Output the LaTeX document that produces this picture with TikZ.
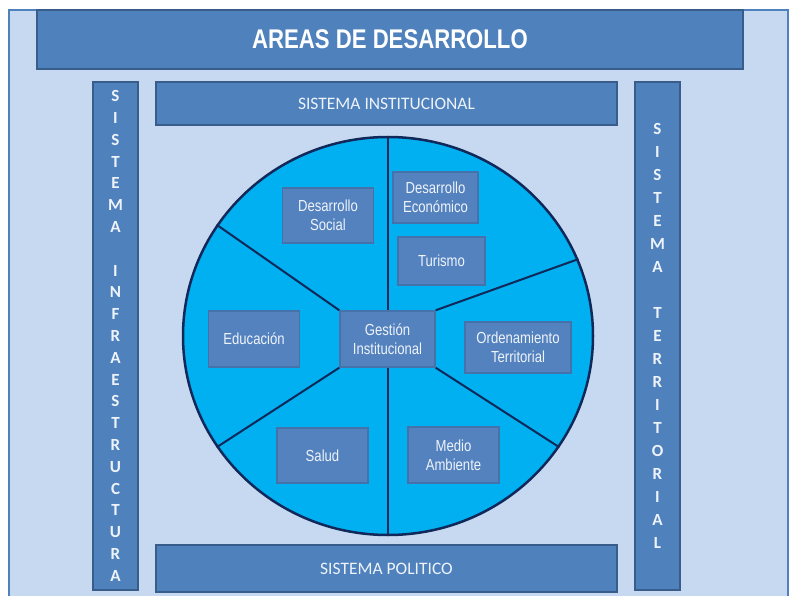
\documentclass[tikz,border=0pt]{standalone}
\usepackage{fontspec}
\setmainfont{Liberation Sans}
\newfontfamily\narrowfont[FakeStretch=0.82]{Liberation Sans}
\newfontfamily\calfont{Carlito}
\usetikzlibrary{positioning,shapes.geometric}
\definecolor{paleblue}{HTML}{C6D9F1}
\definecolor{frameline}{HTML}{4F81BD}
\definecolor{barblue}{HTML}{4F81BD}
\definecolor{barline}{HTML}{385D8A}
\definecolor{wheelblue}{HTML}{00B0F0}
\definecolor{navy}{HTML}{10285A}
\definecolor{areablue}{HTML}{5482BE}
\definecolor{arealine}{HTML}{4472AA}
\definecolor{softwhite}{HTML}{EEF3FA}

\begin{document}
\begin{tikzpicture}[
  x=1pt, y=-1pt,
  bar/.style={
    draw=barline, fill=barblue, line width=1.5pt, inner sep=0pt,
    text=softwhite, font=\calfont\fontsize{17.5}{21}\selectfont
  },
  vbar/.style={
    bar, minimum width=45pt, minimum height=508pt, align=center
  },
  area/.style={
    draw=arealine, fill=areablue, line width=1.5pt, inner sep=0pt,
    minimum width=91pt, minimum height=55pt, align=center,
    text=softwhite, font=\narrowfont\fontsize{16}{19}\selectfont
  },
  divider/.style={draw=navy, line width=2pt}
]
  \clip (0,0) rectangle (790,596);
  \useasboundingbox (0,0) rectangle (790,596);

  % background frame
  \draw[draw=frameline, fill=paleblue, line width=2pt] (9,10) rectangle (788,620);

  % Header and systems around the wheel
  \node[bar, minimum width=706pt, minimum height=59pt, text=white,
    font=\narrowfont\bfseries\fontsize{27}{32}\selectfont] (title) at (390,39.5) {AREAS DE DESARROLLO};
  \node[bar, minimum width=461pt, minimum height=43pt] (inst) at (386.5,103.5) {SISTEMA INSTITUCIONAL};
  \node[bar, minimum width=461pt, minimum height=47pt] (pol) at (386.5,568.5) {SISTEMA POLITICO};
  \node[vbar, font=\calfont\bfseries\fontsize{17}{21.8}\selectfont] (infra) at (115.5,336)
    {S\\I\\S\\T\\E\\M\\A\\~\\I\\N\\F\\R\\A\\E\\S\\T\\R\\U\\C\\T\\U\\R\\A};
  \node[vbar, font=\calfont\bfseries\fontsize{17}{23}\selectfont] (terr) at (657.5,336)
    {S\\I\\S\\T\\E\\M\\A\\~\\T\\E\\R\\R\\I\\T\\O\\R\\I\\A\\L};

  % Wheel of areas
  \node[ellipse, draw=navy, fill=wheelblue, line width=2.5pt, inner sep=0pt,
    minimum width=410pt, minimum height=398pt] (wheel) at (388,336) {};

  \node[area, minimum width=95pt, minimum height=56pt] (gest) at (387.5,339) {Gestión\\Institucional};
  \node[area] (social) at (328,215.5) {Desarrollo\\Social};
  \node[area, minimum width=85pt, minimum height=51pt] (econ) at (435.5,197.5) {Desarrollo\\Económico};
  \node[area, minimum width=87pt, minimum height=48pt] (tur) at (441.5,261) {Turismo};
  \node[area, minimum height=56pt, left=39pt of gest] (educ) {Educación};
  \node[area, minimum width=106pt, minimum height=51pt] (orden) at (518,347.5) {Ordenamiento\\Territorial};
  \node[area] (salud) at (322.5,455.5) {Salud};
  \node[area, minimum height=56pt] (medio) at (453.5,455) {Medio\\Ambiente};

  % Sector dividers
  \draw[divider] (wheel.north) -- (wheel.north |- gest.north);
  \draw[divider] (wheel.south) -- (wheel.south |- gest.south);
  \draw[divider] (gest.north west) -- (wheel.147.5);
  \draw[divider] (gest.north east) -- (wheel.22.6);
  \draw[divider] (gest.south east) -- (wheel.-33);
  \draw[divider] (gest.south west) -- (wheel.213.5);

\end{tikzpicture}
\end{document}
